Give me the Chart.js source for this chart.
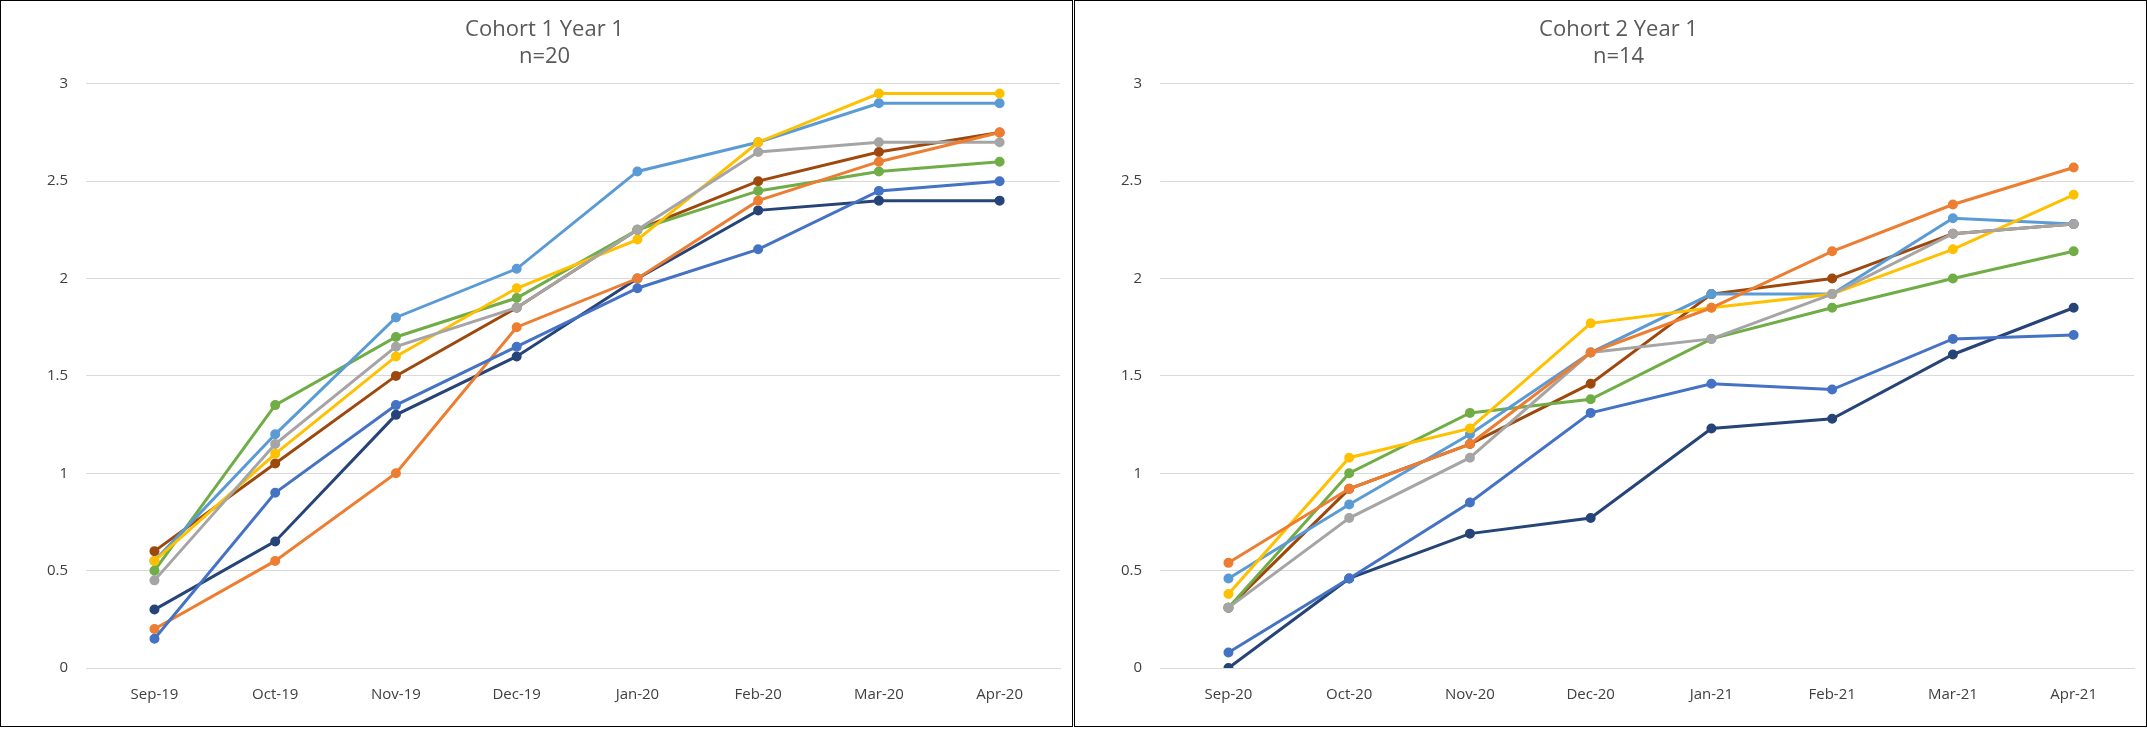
<!DOCTYPE html>
<html>
<head>
<meta charset="utf-8">
<script src="https://cdn.jsdelivr.net/npm/chart.js@4"></script>
<style>
  body { margin: 0; background: #fff; }
  .panel { position: absolute; top: 0; height: 727px; border: 1px solid #000; box-sizing: border-box; background: #fff; }
  #p1 { left: 0; width: 1073px; }
  #p2 { left: 1074px; width: 1073px; }
</style>
</head>
<body>
<div class="panel" id="p1"><canvas id="c1"></canvas></div>
<div class="panel" id="p2"><canvas id="c2"></canvas></div>
<script>
const labels1 = ["Sep-19", "Oct-19", "Nov-19", "Dec-19", "Jan-20", "Feb-20", "Mar-20", "Apr-20"];
const labels2 = ["Sep-20", "Oct-20", "Nov-20", "Dec-20", "Jan-21", "Feb-21", "Mar-21", "Apr-21"];
const colors = ["#4472C4", "#ED7D31", "#A5A5A5", "#FFC000", "#5B9BD5", "#70AD47", "#264478", "#9E480E"];

// order: blue, orange, gray, yellow, light blue, green, navy, brown
const cohort1 = [
  [0.15, 0.9, 1.35, 1.65, 1.95, 2.15, 2.45, 2.5],
  [0.2, 0.55, 1.0, 1.75, 2.0, 2.4, 2.6, 2.75],
  [0.45, 1.15, 1.65, 1.85, 2.25, 2.65, 2.7, 2.7],
  [0.55, 1.1, 1.6, 1.95, 2.2, 2.7, 2.95, 2.95],
  [0.55, 1.2, 1.8, 2.05, 2.55, 2.7, 2.9, 2.9],
  [0.5, 1.35, 1.7, 1.9, 2.25, 2.45, 2.55, 2.6],
  [0.3, 0.65, 1.3, 1.6, 2.0, 2.35, 2.4, 2.4],
  [0.6, 1.05, 1.5, 1.85, 2.25, 2.5, 2.65, 2.75]
];
const cohort2 = [
  [0.08, 0.46, 0.85, 1.31, 1.46, 1.43, 1.69, 1.71],
  [0.54, 0.92, 1.15, 1.62, 1.85, 2.14, 2.38, 2.57],
  [0.31, 0.77, 1.08, 1.62, 1.69, 1.92, 2.23, 2.28],
  [0.38, 1.08, 1.23, 1.77, 1.85, 1.92, 2.15, 2.43],
  [0.46, 0.84, 1.2, 1.62, 1.92, 1.92, 2.31, 2.28],
  [0.31, 1.0, 1.31, 1.38, 1.69, 1.85, 2.0, 2.14],
  [0.0, 0.46, 0.69, 0.77, 1.23, 1.28, 1.61, 1.85],
  [0.31, 0.92, 1.15, 1.46, 1.92, 2.0, 2.23, 2.28]
];

function makeChart(id, labels, series, title) {
  new Chart(document.getElementById(id), {
    type: "line",
    data: {
      labels: labels,
      datasets: series.map((d, i) => ({
        data: d, borderColor: colors[i], backgroundColor: colors[i],
        borderWidth: 3, pointRadius: 3.5, pointHoverRadius: 4, tension: 0
      }))
    },
    options: {
      responsive: true, maintainAspectRatio: false, animation: false,
      layout: { padding: { left: 28, right: 12, top: 12, bottom: 12 } },
      plugins: {
        legend: { display: false },
        tooltip: { enabled: false },
        title: { display: true, text: title, color: "#595959",
          font: { family: "Open Sans", size: 22, weight: "normal" }, padding: { top: 4, bottom: 14 } }
      },
      scales: {
        x: { offset: true, grid: { display: false }, border: { color: "#d9d9d9" },
          ticks: { color: "#404040", font: { family: "Open Sans", size: 15 }, padding: 10 } },
        y: { min: 0, max: 3, grid: { color: "#d9d9d9" }, border: { display: false },
          ticks: { stepSize: 0.5, color: "#404040", font: { family: "Open Sans", size: 15 }, padding: 18,
            callback: v => String(v) } }
      }
    }
  });
}

makeChart("c1", labels1, cohort1, ["Cohort 1 Year 1", "n=20"]);
makeChart("c2", labels2, cohort2, ["Cohort 2 Year 1", "n=14"]);
</script>
</body>
</html>
